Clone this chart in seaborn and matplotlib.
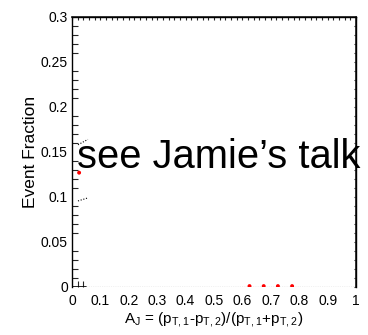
import matplotlib
matplotlib.use("Agg")
import matplotlib.pyplot as plt
import seaborn as sns
import pandas as pd
from matplotlib.ticker import MultipleLocator, FixedLocator

# Dijet asymmetry: bin centres and event fractions (bin width 0.05)
bin_centers = [0.025, 0.625, 0.675, 0.725, 0.775]
event_fraction = [0.127, 0.001, 0.001, 0.001, 0.001]

# Edges of the systematic band visible in the first bin
band_x = [0.021, 0.056]
band_upper = [0.158, 0.164]
band_lower = [0.0956, 0.099]

x_ticks = [0, 0.1, 0.2, 0.3, 0.4, 0.5, 0.6, 0.7, 0.8, 0.9, 1.0]
x_tick_labels = ["0", "0.1", "0.2", "0.3", "0.4", "0.5", "0.6", "0.7", "0.8", "0.9", "1"]
y_ticks = [0, 0.05, 0.1, 0.15, 0.2, 0.25, 0.3]
y_tick_labels = ["0", "0.05", "0.1", "0.15", "0.2", "0.25", "0.3"]

sns.set_theme(style="white")
plt.rcParams["font.family"] = ["Liberation Sans", "DejaVu Sans"]

fig = plt.figure(figsize=(3.68, 3.35), dpi=100)
ax = fig.add_axes([0.1957, 0.1433, 0.7717, 0.8060])

df = pd.DataFrame({"AJ": bin_centers, "frac": event_fraction})
sns.scatterplot(data=df, x="AJ", y="frac", ax=ax, color="red", s=8,
                edgecolor="none", zorder=4, legend=False, clip_on=True)

ax.plot(band_x, band_upper, color="black", lw=0.8, ls=(0, (1, 1.5)), zorder=12)
ax.plot(band_x, band_lower, color="black", lw=0.8, ls=(0, (1, 1.5)), zorder=12)

ax.set_xlim(0, 1)
ax.set_ylim(0, 0.3)

for side in ["left", "top", "right"]:
    ax.spines[side].set_color("black")
    ax.spines[side].set_linewidth(1.0)
ax.spines["bottom"].set_visible(False)
# bottom axis: solid near the origin, dotted baseline elsewhere
ax.axhline(0, xmin=0, xmax=0.05, color="black", lw=1.2, zorder=6)
ax.axhline(0, xmin=0.05, xmax=1, color="black", lw=0.8, ls=(0, (1, 1)), zorder=6)

ax.set_xticks(x_ticks)
ax.set_xticklabels(x_tick_labels)
ax.set_yticks(y_ticks)
ax.set_yticklabels(y_tick_labels)
ax.xaxis.set_minor_locator(FixedLocator([0.0, 0.02, 0.04]))
ax.yaxis.set_minor_locator(MultipleLocator(0.01))

ax.tick_params(axis="x", which="major", length=0, pad=5, labelsize=10, colors="black")
ax.tick_params(axis="x", which="minor", direction="in", length=4, width=0.8,
               bottom=True, top=False)
ax.tick_params(axis="y", which="major", direction="in", length=8, width=0.9,
               labelsize=10, colors="black", pad=3)
ax.tick_params(axis="y", which="minor", direction="in", length=4, width=0.8, left=True)

# fine ticks along the top and right edges
top = ax.secondary_xaxis("top")
top.set_xticks([])
top.xaxis.set_minor_locator(MultipleLocator(0.02))
top.tick_params(which="minor", direction="in", length=2.5, width=0.8)
top.tick_params(which="major", length=0)
top.set_xticklabels([])
right = ax.secondary_yaxis("right")
right.set_yticks([])
right.yaxis.set_minor_locator(MultipleLocator(0.01))
right.tick_params(which="minor", direction="in", length=1.5, width=0.8)
right.tick_params(which="major", length=0)

ax.set_xlabel(r"A$_\mathregular{J}$ = (p$_\mathregular{T,1}$-p$_\mathregular{T,2}$)/(p$_\mathregular{T,1}$+p$_\mathregular{T,2}$)",
              fontsize=11, color="black", labelpad=2)
ax.set_ylabel("Event Fraction", fontsize=12.5, color="black", labelpad=2)

ax.text(0.018, 0.132, "see Jamie\u2019s talk", fontsize=28.7, color="black",
        ha="left", va="baseline", zorder=10, clip_on=False)

fig.savefig("out.png", dpi=100)
